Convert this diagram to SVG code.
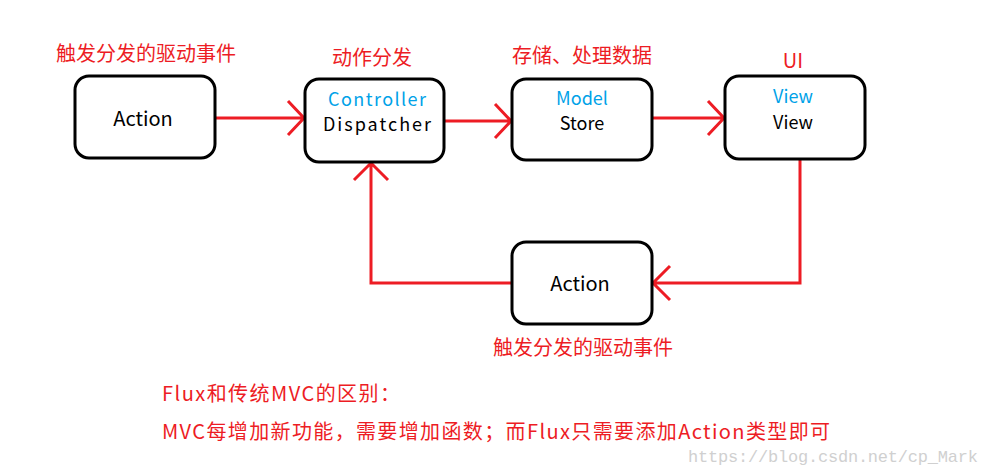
<svg xmlns="http://www.w3.org/2000/svg" width="989" height="475" viewBox="0 0 989 475">
<style>
.box{fill:#fff;stroke:#000;stroke-width:3}
.t{font-family:"Noto Sans CJK SC","Microsoft YaHei",sans-serif;font-size:20px;text-anchor:middle}
.s{font-size:18px}
.b{fill:#000}.c{fill:#00a2e8}.r{fill:#ed1c24}
.ln{fill:none;stroke:#ed1c24;stroke-width:3}
</style>
<rect width="989" height="475" fill="#fff"/>
<g id="connectors" class="ln">
<path d="M215 118H304M288 101L304 118L288 135"/>
<path d="M444 121H511M495 104L511 121L495 138"/>
<path d="M652 118H724M708 101L724 118L708 135"/>
<path d="M800 159V283H653M670 266L653 283L670 300"/>
<path d="M512 283H371V163M354 180L371 163L388 180"/>
</g>
<g id="action1"><rect class="box" x="75" y="76" width="140" height="82" rx="14"/><text class="t b" x="143" y="126">Action</text></g>
<g id="dispatcher"><rect class="box" x="305" y="79" width="139" height="83" rx="14"/><text class="t c s" x="377" y="106" textLength="98">Controller</text><text class="t b s" x="377" y="131" textLength="108">Dispatcher</text></g>
<g id="store"><rect class="box" x="512" y="79" width="140" height="81" rx="14"/><text class="t c s" x="582" y="105">Model</text><text class="t b s" x="582" y="130">Store</text></g>
<g id="view"><rect class="box" x="725" y="76" width="140" height="83" rx="14"/><text class="t c s" x="793" y="103">View</text><text class="t b s" x="793" y="129">View</text></g>
<g id="action2"><rect class="box" x="512" y="242" width="140" height="82" rx="14"/><text class="t b" x="580" y="291">Action</text></g>
<g id="labels">
<text class="t r" x="146" y="61">触发分发的驱动事件</text>
<text class="t r" x="372" y="65">动作分发</text>
<text class="t r" x="582" y="63">存储、处理数据</text>
<text class="t r" x="793" y="68">UI</text>
<text class="t r" x="583" y="355">触发分发的驱动事件</text>
<text class="t r" x="162" y="401" style="text-anchor:start" textLength="238">Flux和传统MVC的区别：</text>
<text class="t r" x="162" y="439" style="text-anchor:start" textLength="668">MVC每增加新功能，需要增加函数；而Flux只需要添加Action类型即可</text>
<text x="688" y="462" textLength="290" style="font-family:'Liberation Mono',monospace;font-size:17px;fill:#d0d0d0">https://blog.csdn.net/cp_Mark</text>
</g>
</svg>
